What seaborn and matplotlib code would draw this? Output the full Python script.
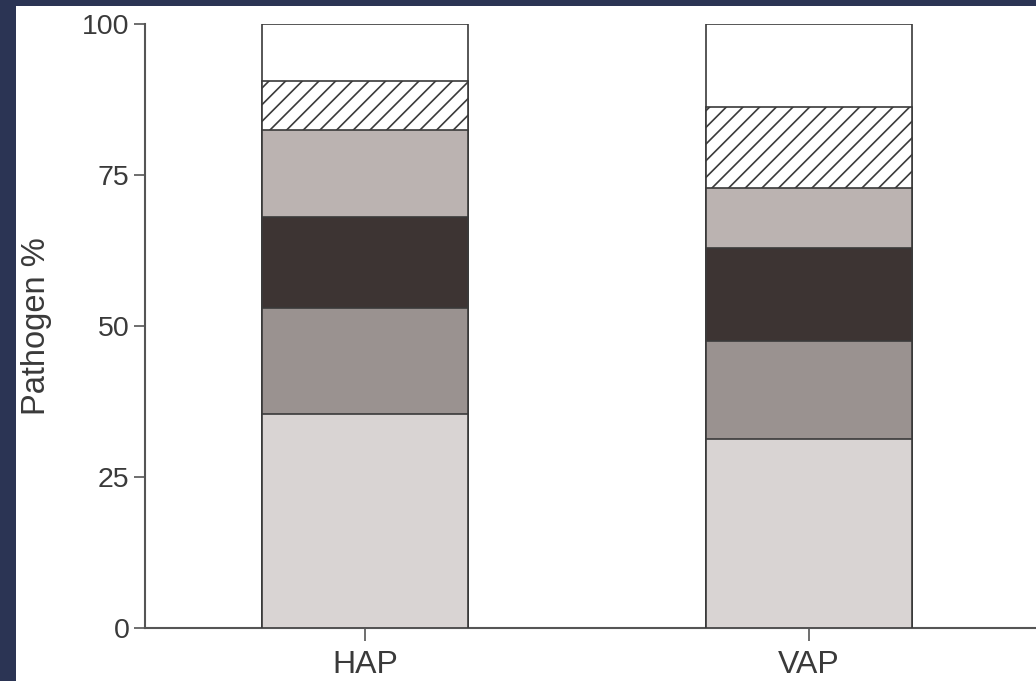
import numpy as np
import pandas as pd
import matplotlib
matplotlib.use("Agg")
import matplotlib.pyplot as plt
import seaborn as sns
from matplotlib.patches import Rectangle

categories = ["HAP", "VAP"]
# stacked segment values (bottom -> top), in %
seg1 = [35.4, 31.3]
seg2 = [17.5, 16.2]
seg3 = [15.2, 15.4]
seg4 = [14.4, 9.9]
seg5 = [8.0, 13.5]
seg6 = [9.5, 13.7]
yticks = [0, 25, 50, 75, 100]
ylabel = "Pathogen %"

segments = [seg1, seg2, seg3, seg4, seg5, seg6]
colors = ["#d9d4d3", "#9a9290", "#3d3433", "#bbb3b1", "#ffffff", "#ffffff"]
hatches = [None, None, None, None, "//", None]

sns.set_theme(style="white")
plt.rcParams["font.family"] = ["Liberation Sans", "DejaVu Sans"]
plt.rcParams["hatch.linewidth"] = 1.2

fig = plt.figure(figsize=(10.36, 6.81), dpi=100)
fig.patch.set_facecolor("#2b3454")
fig.patches.append(Rectangle((16 / 1036, 0), 1 - 16 / 1036, 1 - 6 / 681,
                             transform=fig.transFigure, facecolor="white",
                             edgecolor="none", zorder=-10))
ax = fig.add_axes([145 / 1036, 53 / 681, 1 - 145 / 1036, (628 - 24) / 681])
ax.set_facecolor("none")

cum = np.cumsum(np.array(segments), axis=0)
for i in range(len(segments) - 1, -1, -1):
    df = pd.DataFrame({"cat": categories, "val": cum[i]})
    sns.barplot(data=df, x="cat", y="val", ax=ax, color=colors[i],
                width=0.465, edgecolor="#3a3a3a", linewidth=1.2,
                hatch=hatches[i], saturation=1, zorder=2 + (len(segments) - i))

ax.set_xlim(-0.495, 1.511)
ax.set_ylim(0, 100)
ax.set_yticks(yticks)
ax.set_yticklabels([str(t) for t in yticks])
ax.set_xlabel("")
ax.set_ylabel(ylabel, fontsize=23.5, color="#3a3a3a")
ax.yaxis.set_label_coords(-0.104, 0.5)
for s in ["top", "right"]:
    ax.spines[s].set_visible(False)
for s in ["left", "bottom"]:
    ax.spines[s].set_color("#555555")
    ax.spines[s].set_linewidth(1.5)
ax.tick_params(axis="y", length=8, width=1.2, color="#555555",
               labelsize=20.5, labelcolor="#3a3a3a", pad=3, left=True)
ax.tick_params(axis="x", length=9, width=1.2, color="#555555",
               labelsize=23, labelcolor="#3a3a3a", pad=7, bottom=True)

fig.savefig("out.png", dpi=100, facecolor=fig.get_facecolor())
